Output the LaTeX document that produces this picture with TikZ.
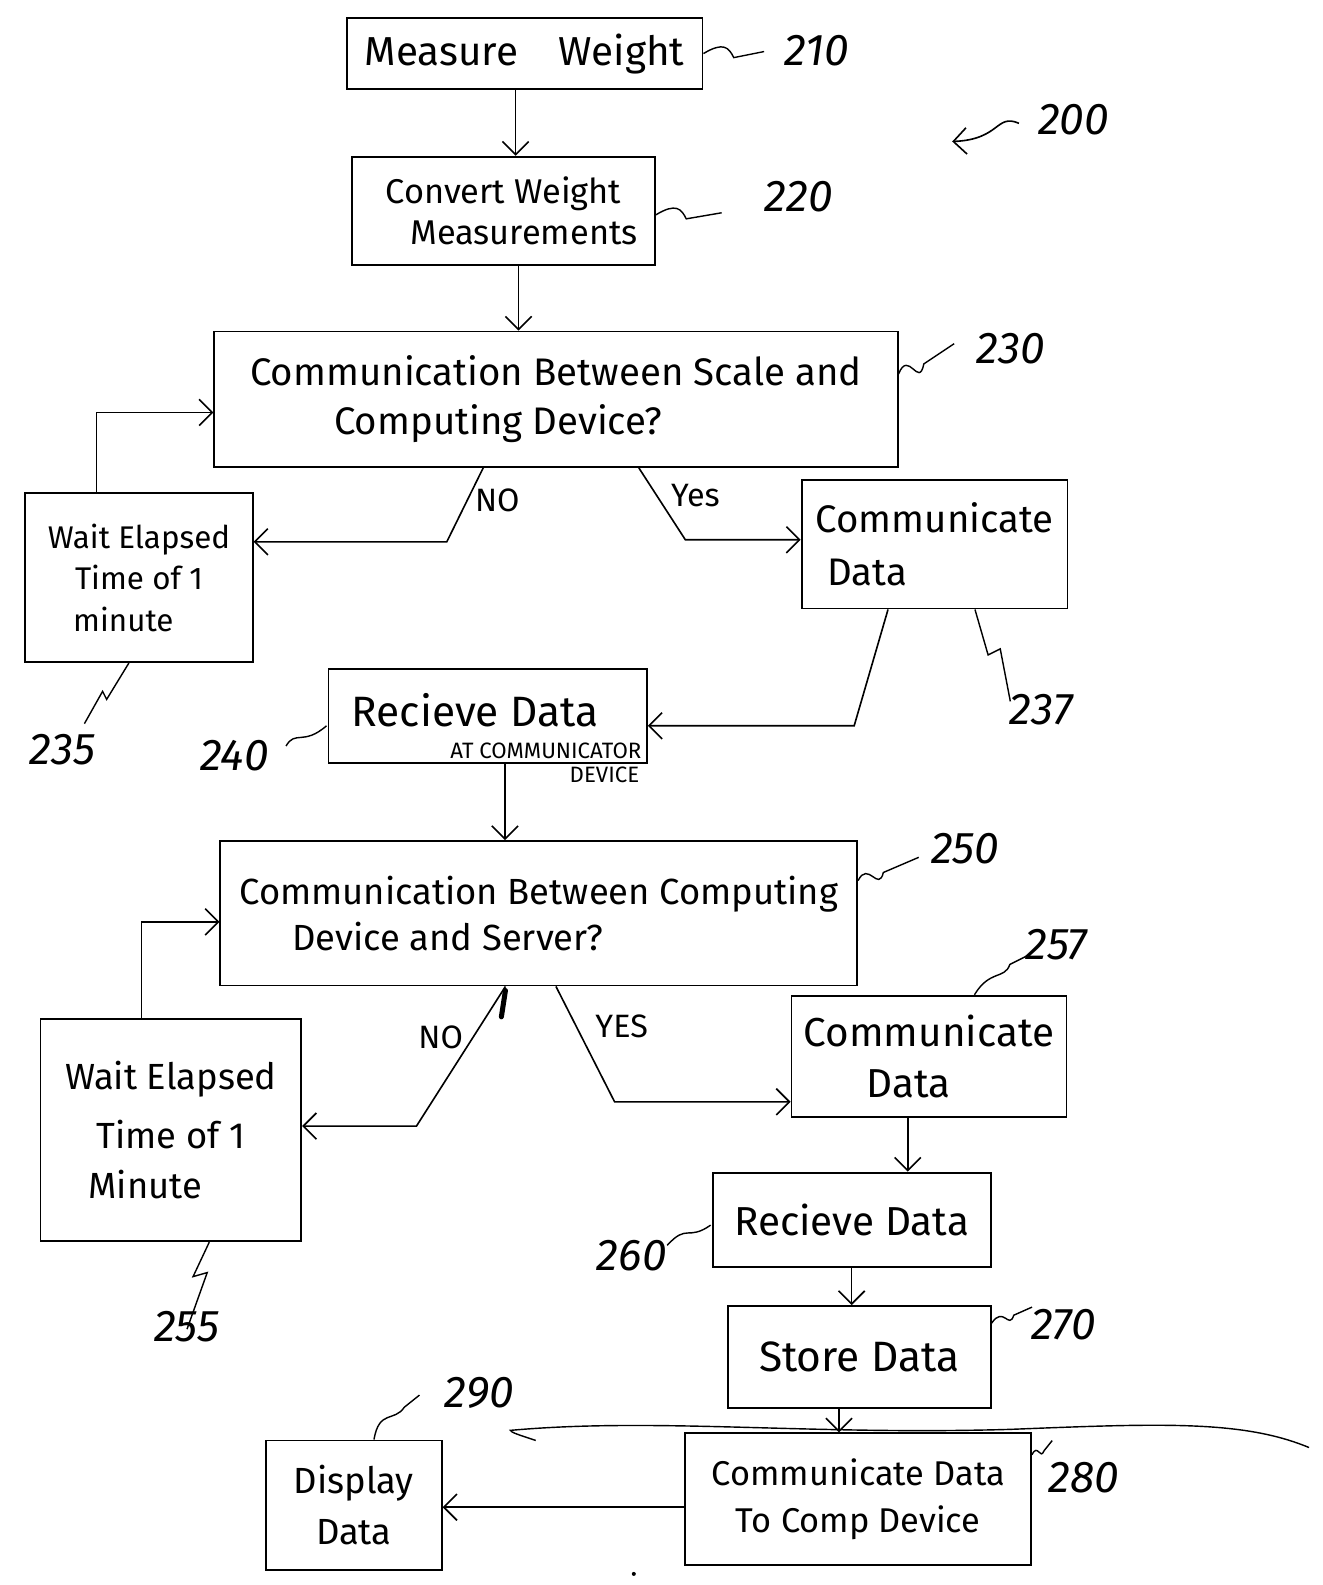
\documentclass[tikz,border=0pt]{standalone}
\usepackage{fontspec}
\setmainfont{Fira Sans}
\usetikzlibrary{arrows.meta,calc}
\newcommand{\fs}[1]{\fontsize{#1}{#1}\selectfont}
\tikzset{
  box/.style={draw, line width=1.8pt, inner sep=0pt, align=center},
  arr/.style={line width=1.6pt, -{Straight Barb[length=13pt,width=26pt,line width=1.6pt]}},
  conn/.style={line width=1.6pt},
  lead/.style={line width=1.4pt},
  num/.style={inner sep=0pt, font=\fs{44}\itshape},
  yn/.style={inner sep=0pt, font=\fs{32}}
}
\begin{document}
\begin{tikzpicture}[x=1pt,y=-1pt]
\useasboundingbox (0,0) rectangle (1308,1568);
% boxes
\node[box, minimum width=352pt, minimum height=70pt, font=\fs{40}] (b210) at (519,53) {Measure\quad Weight};
\node[box, minimum width=300pt, minimum height=107pt, font=\fs{34}] (b220) at (498,208.5) {Convert Weight\\[6pt]\hspace*{1.2em}Measurements};
\node[box, minimum width=676pt, minimum height=134pt, font=\fs{38}] (b230) at (550,395) {Communication Between Scale and\\[10pt]Computing Device?\hspace*{3em}};
\node[box, minimum width=225pt, minimum height=167pt, font=\fs{31}] (b235) at (137.5,571.5) {Wait Elapsed\\[10pt]Time of 1\\[10pt]minute\hspace*{1em}};
\node[box, minimum width=263pt, minimum height=127pt, font=\fs{38}, align=left] (b237) at (924.5,538.5) {Communicate\\[14pt]\hspace*{0.3em}Data\hspace*{3.2em}};
\node[box, minimum width=315pt, minimum height=93pt] (b240) at (482.5,708.5) {};
\node[font=\fs{42}, inner sep=0pt] (t240) at (470,703) {Recieve Data};
\node[font=\fs{22}, inner sep=0pt] (t240a) at (540,743) {AT COMMUNICATOR};
\node[font=\fs{22}, inner sep=0pt] (t240b) at (598,767) {DEVICE};
\node[box, minimum width=630pt, minimum height=143pt, font=\fs{36}] (b250) at (533,903.5) {Communication Between Computing\\[10pt]Device and Server?\hspace*{5em}};
\node[box, minimum width=258pt, minimum height=220pt, font=\fs{36}] (b255) at (169,1118) {Wait Elapsed\\[22pt]Time of 1\\[14pt]Minute\hspace*{1.4em}};
\node[box, minimum width=272pt, minimum height=120pt, font=\fs{40}] (b257) at (919,1045) {Communicate\\[10pt]Data\hspace*{1em}};
\node[box, minimum width=275pt, minimum height=93pt, font=\fs{40}] (b260) at (842.5,1206.5) {Recieve Data};
\node[box, minimum width=260pt, minimum height=101pt, font=\fs{42}] (b270) at (850,1342.5) {Store Data};
\node[box, minimum width=342pt, minimum height=130pt, font=\fs{34}] (b280) at (849,1483) {Communicate Data\\[12pt]To Comp Device};
\node[box, minimum width=174pt, minimum height=128pt, font=\fs{36}] (b290) at (350,1489) {Display\\[14pt]Data};
% main flow
\draw[arr] ([xshift=-9pt]b210.south) -- ([xshift=-9pt]b210.south |- b220.north);
\draw[arr] ([xshift=15pt]b220.south) -- ([xshift=15pt]b220.south |- b230.north);
\coordinate (n1) at (442,536);
\draw[arr] ([xshift=-72pt]b230.south) -- (n1) -- (n1 -| b235.east);
\coordinate (y1) at (678,534);
\draw[arr] ([xshift=82pt]b230.south) -- (y1) -- (y1 -| b237.west);
\draw[arr] ([xshift=-42pt]b235.north) |- ([yshift=-13pt]b230.west);
\coordinate (c237) at (845,718);
\draw[arr] ([xshift=-46pt]b237.south) -- (c237) -- (c237 -| b240.east);
\draw[arr] ([xshift=17pt]b240.south) -- ([xshift=17pt]b240.south |- b250.north);
\coordinate (n2) at (412,1114);
\draw[arr] ([xshift=-33pt]b250.south) -- (n2) -- (n2 -| b255.east);
\draw[line width=5pt, line cap=round] ([xshift=-33pt,yshift=-4pt]b250.south) -- ([xshift=-37pt,yshift=-30pt]b250.south);
\coordinate (y2) at (608,1090);
\draw[arr] ([xshift=17pt]b250.south) -- (y2) -- (y2 -| b257.west);
\draw[arr] ([xshift=-29pt]b255.north) |- ([yshift=-8.5pt]b250.west);
\draw[arr] ([xshift=-21pt]b257.south) -- ([xshift=-21pt]b257.south |- b260.north);
\draw[arr] (b260.south) -- (b260.south |- b270.north);
\draw[arr] ([xshift=-20pt]b270.south) -- ([xshift=-20pt]b270.south |- b280.north);
\draw[arr] ([yshift=-8pt]b280.west) -- ([yshift=-8pt]b280.west -| b290.east);
% yes/no labels
\node[yn] (no1) at (492,495) {NO};
\node[yn] (yes1) at (688,490) {Yes};
\node[yn] (no2) at (436,1026) {NO};
\node[yn] (yes2) at (615,1015) {YES};
% stray stroke
\draw[line width=1.4pt] (530,1425) .. controls (515,1420) and (505,1417) .. (505,1415) .. controls (650,1402) and (800,1420) .. (1000,1414) .. controls (1150,1408) and (1230,1405) .. (1295,1432);
% reference numerals
\node[num] (l200) at (1062,118) {200};
\coordinate (a200) at (942,140);
\draw[arr] (1008,122) .. controls (985,112) and (990,138) .. (a200);
\node[num] (l210) at (808,50) {210};
\draw[lead] (b210.east) .. controls +(20,-12) and +(-5,-10) .. ++(30,4) -- ++(30,-6);
\node[num] (l220) at (790,195) {220};
\draw[lead] ([yshift=-4pt]b220.east) .. controls +(20,-12) and +(-5,-10) .. ++(30,4) -- ++(35,-6);
\node[num] (l230) at (1000,345) {230};
\draw[lead] ([yshift=25pt]b230.east) .. controls +(10,-25) and +(-5,25) .. ++(25,-10) -- ++(30,-20);
\node[num] (l235) at (62,742) {235};
\draw[lead] ([xshift=-10pt]b235.south) -- ++(-22,36) -- ++(-4,-8) -- ++(-18,32);
\node[num] (l237) at (1030,702) {237};
\draw[lead] ([xshift=40pt]b237.south) -- ++(13,45) -- ++(12,-6) -- ++(10,52);
\node[num] (l240) at (232,748) {240};
\draw[lead] (283,738) .. controls (292,722) and (300,738) .. (323,718);
\node[num] (l250) at (955,840) {250};
\draw[lead] ([yshift=-40pt]b250.north east) .. controls +(10,-20) and +(-5,20) .. ++(25,-8) -- ++(35,-15);
\node[num] (l255) at (185,1312) {255};
\draw[lead] ([xshift=38pt]b255.south) -- ++(-16,34) -- ++(14,-4) -- ++(-20,56);
\node[num] (l257) at (1045,935) {257};
\draw[lead] ([xshift=45pt]b257.north) .. controls +(15,-25) and +(-5,15) .. ++(35,-30) -- ++(20,-10);
\node[num] (l260) at (625,1242) {260};
\draw[lead] (660,1232) .. controls (680,1210) and (680,1228) .. (703,1212);
\node[num] (l270) at (1052,1310) {270};
\draw[lead] ([yshift=-18pt]b270.north east) .. controls +(12,-18) and +(-5,15) .. ++(22,-8) -- ++(18,-8);
\node[num] (l280) at (1072,1462) {280};
\draw[lead] ([yshift=-22pt]b280.north east) .. controls +(6,-12) and +(-4,10) .. ++(12,-4) -- ++(8,-10);
\node[num] (l290) at (474,1378) {290};
\draw[lead] ([xshift=20pt]b290.north) .. controls +(5,-30) and +(-10,15) .. ++(30,-32) -- ++(15,-12);
\fill (627,1557) circle (2pt);
\end{tikzpicture}
\end{document}
